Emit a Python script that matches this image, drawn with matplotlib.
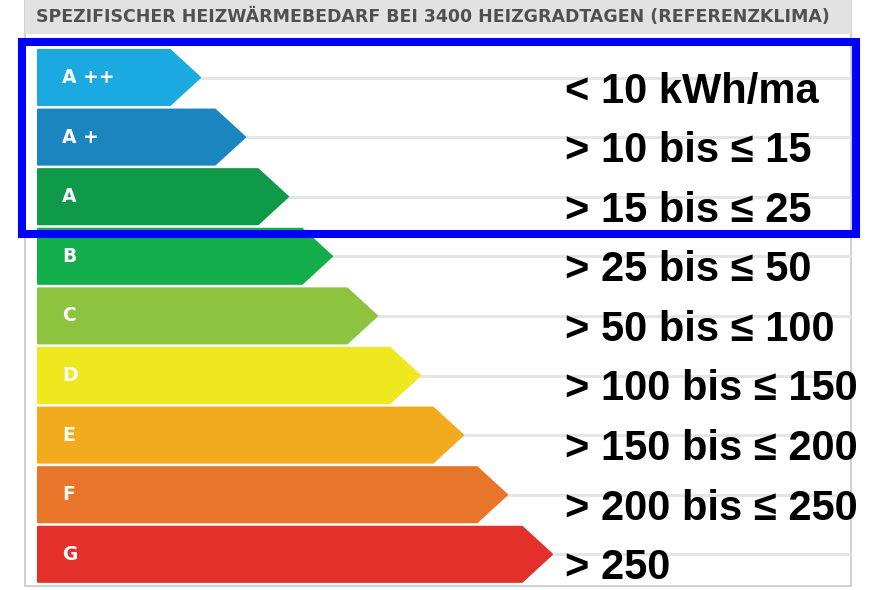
import matplotlib.pyplot as plt
from matplotlib.patches import Polygon, Rectangle

# energy classes, arrow reach (px scale) and value ranges
classes = ['A ++', 'A +', 'A', 'B', 'C', 'D', 'E', 'F', 'G']
reach = [200, 245, 288, 332, 377, 420, 463, 507, 552]
ranges = ['< 10 kWh/ma', '> 10 bis ≤ 15', '> 15 bis ≤ 25', '> 25 bis ≤ 50',
          '> 50 bis ≤ 100', '> 100 bis ≤ 150', '> 150 bis ≤ 200',
          '> 200 bis ≤ 250', '> 250']
colors = ['#1ba9e1', '#1a85bf', '#0f9a4a', '#13ae4b', '#8dc33f',
          '#efe81e', '#f2ab1d', '#e7752a', '#e3302a']
title = 'SPEZIFISCHER HEIZWÄRMEBEDARF BEI 3400 HEIZGRADTAGEN (REFERENZKLIMA)'

fig = plt.figure(figsize=(8.89, 5.9), dpi=100)
ax = fig.add_axes([0, 0, 1, 1])
ax.set_xlim(0, 889)
ax.set_ylim(590, 0)
ax.axis('off')

# panel and header band
ax.add_patch(Rectangle((25, 0), 826, 586, facecolor='white', edgecolor='#c8c8c8', lw=1.2))
ax.add_patch(Rectangle((25, 0), 826, 34, facecolor='#e2e2e2', edgecolor='none'))
ax.text(433, 17, title, ha='center', va='center', fontsize=12.5, color='#505050',
        family=['Liberation Sans Narrow', 'DejaVu Sans'], fontweight='bold')

x0 = 38
top0 = 50
pitch = 59.6
h = 55
for i, (cls, r, rng, c) in enumerate(zip(classes, reach, ranges, colors)):
    top = top0 + i * pitch
    mid = top + h / 2
    # faint guide line
    ax.plot([r, 850], [mid, mid], color='#e4e4e4', lw=2, zorder=1)
    arrow = Polygon([(x0, top), (r - 30, top), (r, mid), (r - 30, top + h), (x0, top + h)],
                    closed=True, facecolor=c, edgecolor=c, lw=1.5, joinstyle='round', zorder=2)
    ax.add_patch(arrow)
    ax.text(62, mid, cls, ha='left', va='center', fontsize=13.5, color='white',
            fontweight='bold', family=['DejaVu Sans'], zorder=3)
    ax.text(565, mid + 14, rng, ha='left', va='center', fontsize=30, color='black',
            fontweight='bold', family=['Liberation Sans', 'DejaVu Sans'], zorder=3)

# blue highlight frame
ax.add_patch(Rectangle((22, 42), 834, 192, facecolor='none', edgecolor='#0000ff', lw=5.8, zorder=4))

fig.savefig('out.png', dpi=100)
